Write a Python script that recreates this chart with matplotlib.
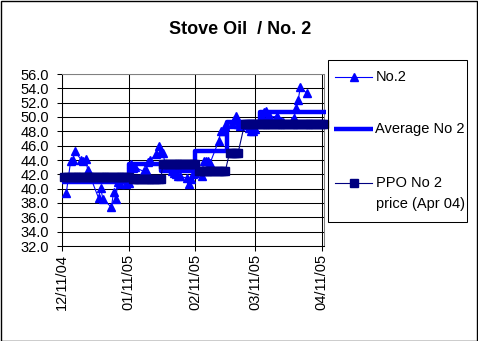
import datetime as dt
import numpy as np
import pandas as pd
import matplotlib
matplotlib.use("Agg")
import matplotlib.pyplot as plt
import matplotlib.dates as mdates
import matplotlib.ticker as mticker
from matplotlib.lines import Line2D
from matplotlib.patches import Rectangle

plt.rcParams.update({
    "font.family": ["Liberation Sans", "DejaVu Sans"],
    "font.size": 10.5,
})

# ── No.2 settles ─────────────────────────────────────────────────────────────
no2_dates = [
    "2004-12-13", "2004-12-15", "2004-12-16", "2004-12-17", "2004-12-20",
    "2004-12-21", "2004-12-22", "2004-12-23", "2004-12-28", "2004-12-29",
    "2004-12-30", "2005-01-03", "2005-01-04", "2005-01-05", "2005-01-06",
    "2005-01-07", "2005-01-10", "2005-01-11", "2005-01-12", "2005-01-13",
    "2005-01-14", "2005-01-18", "2005-01-19", "2005-01-20", "2005-01-21",
    "2005-01-24", "2005-01-25", "2005-01-26", "2005-01-27", "2005-01-28",
    "2005-01-31", "2005-02-01", "2005-02-02", "2005-02-03", "2005-02-04",
    "2005-02-07", "2005-02-08", "2005-02-09", "2005-02-10", "2005-02-11",
    "2005-02-14", "2005-02-15", "2005-02-16", "2005-02-17", "2005-02-18",
    "2005-02-22", "2005-02-23", "2005-02-24", "2005-02-25", "2005-02-28",
    "2005-03-01", "2005-03-02", "2005-03-03", "2005-03-04", "2005-03-07",
    "2005-03-08", "2005-03-09", "2005-03-10", "2005-03-11", "2005-03-14",
    "2005-03-15", "2005-03-16", "2005-03-17", "2005-03-18", "2005-03-21",
    "2005-03-22", "2005-03-23", "2005-03-24", "2005-03-28", "2005-03-29",
    "2005-03-30", "2005-03-31", "2005-04-01", "2005-04-04",
]
no2_vals = [
    39.4, 43.8, 44.0, 45.2, 44.0,
    43.8, 44.1, 42.6, 38.7, 40.1,
    38.6, 37.4, 39.5, 38.5, 40.9,
    40.7, 40.6, 40.8, 43.4, 42.9,
    43.0, 42.4, 42.6, 43.7, 44.0,
    44.8, 46.0, 45.2, 45.0, 43.5,
    42.5, 42.2, 42.0, 41.8, 41.7,
    41.5, 40.7, 41.3, 42.1, 42.2,
    41.7, 43.8, 43.8, 43.9, 43.6,
    46.7, 48.1, 48.0, 48.7, 49.0,
    49.6, 50.1, 49.0, 48.8, 48.9,
    48.4, 48.1, 48.0, 48.3, 50.2,
    50.7, 50.8, 50.0, 50.0, 50.1,
    49.4, 49.5, 49.3, 49.5, 49.8,
    51.2, 52.4, 54.2, 53.3,
]

# ── Half-monthly average (held until next break) ─────────────────────────────
avg_dates = ["2004-12-11", "2005-01-11", "2005-01-26", "2005-02-11",
             "2005-02-26", "2005-03-13", "2005-04-13"]
avg_vals = [41.0, 43.5, 42.5, 45.2, 49.3, 50.7, 50.7]

# ── PPO No 2 price (Apr 04), one value per pricing period ────────────────────
ppo_start = ["2004-12-12", "2005-01-13", "2005-01-27", "2005-02-13",
             "2005-02-27", "2005-03-06"]
ppo_end = ["2005-01-11", "2005-01-26", "2005-02-11", "2005-02-25",
           "2005-03-03", "2005-04-12"]
ppo_vals = [41.6, 41.3, 43.5, 42.4, 45.0, 49.0]

BLUE = "#0000FF"
NAVY = "#000080"
W, H = 478, 341


def fx(px):
    return px / W


def fy(py):
    return 1 - py / H


fig = plt.figure(figsize=(W / 100, H / 100), dpi=100)
ax = fig.add_axes([fx(62), fy(246), (324 - 62) / W, (246 - 74) / H])

# No.2 daily
ax.plot(pd.to_datetime(no2_dates), no2_vals, color=BLUE, lw=0.8,
        marker="^", ms=6.2, mfc=BLUE, mec=BLUE, zorder=3)

# average, stepped
ax.plot(pd.to_datetime(avg_dates), avg_vals, color=BLUE, lw=3.2,
        drawstyle="steps-post", solid_capstyle="butt", zorder=4,
        clip_on=False)

# PPO, one marker per day of each period
ppo_d, ppo_v = [], []
for s, e, v in zip(ppo_start, ppo_end, ppo_vals):
    days = pd.date_range(s, e)
    ppo_d.extend(days)
    ppo_v.extend([v] * len(days))
ax.plot(ppo_d, ppo_v, color=NAVY, lw=0.8, marker="s", ms=5.5,
        mfc=NAVY, mec=NAVY, zorder=5, clip_on=False)

ax.set_xlim(dt.date(2004, 12, 11), dt.date(2005, 4, 12))
ax.set_ylim(32, 56)
ax.set_yticks(np.arange(32, 56.1, 2))
ax.yaxis.set_major_formatter(mticker.FormatStrFormatter("%.1f"))
ax.xaxis.set_major_locator(mdates.MonthLocator(bymonthday=11))
ax.xaxis.set_major_formatter(mdates.DateFormatter("%m/%d/%y"))
for lbl in ax.get_xticklabels():
    lbl.set_rotation(90)
ax.tick_params(axis="both", direction="out", length=3.5, width=0.75,
               color="black", labelsize=10.5)
ax.tick_params(axis="y", pad=6)
ax.tick_params(axis="x", pad=2)
ax.grid(True, color="black", lw=0.75)
for side in ("top", "right"):
    ax.spines[side].set_color("#808080")
for side in ("left", "bottom"):
    ax.spines[side].set_color("black")
for sp in ax.spines.values():
    sp.set_linewidth(0.75)

fig.text(fx(240), fy(30), "Stove Oil  / No. 2", ha="center", va="center",
         fontsize=13, fontweight="bold")

# ── Legend, laid out by hand ─────────────────────────────────────────────────
fig.add_artist(Rectangle((fx(328), fy(222)), (467 - 328) / W, (222 - 60) / H,
                         transform=fig.transFigure, fill=False,
                         ec="black", lw=0.75))
fig.add_artist(Line2D([fx(335), fx(372)], [fy(77)] * 2, color=BLUE, lw=0.8,
                      transform=fig.transFigure))
fig.add_artist(Line2D([fx(353.5)], [fy(77)], color=BLUE, marker="^", ms=6.2,
                      transform=fig.transFigure))
fig.text(fx(376), fy(77), "No.2", va="center")
fig.add_artist(Line2D([fx(334), fx(373)], [fy(129)] * 2, color=BLUE, lw=3.2,
                      solid_capstyle="butt", transform=fig.transFigure))
fig.text(fx(375), fy(129), "Average No 2", va="center")
fig.add_artist(Line2D([fx(335), fx(372)], [fy(183)] * 2, color=NAVY, lw=0.8,
                      transform=fig.transFigure))
fig.add_artist(Line2D([fx(353.5)], [fy(183)], color=NAVY, marker="s", ms=5.5,
                      transform=fig.transFigure))
fig.text(fx(376), fy(183), "PPO No 2", va="center")
fig.text(fx(376), fy(204), "price (Apr 04)", va="center")

# chart frame
fig.add_artist(Rectangle((fx(0.5), fy(340.5)), (W - 1.5) / W, (H - 1.5) / H,
                         transform=fig.transFigure, fill=False,
                         ec="black", lw=1.0))

fig.savefig("out.png", dpi=100)
